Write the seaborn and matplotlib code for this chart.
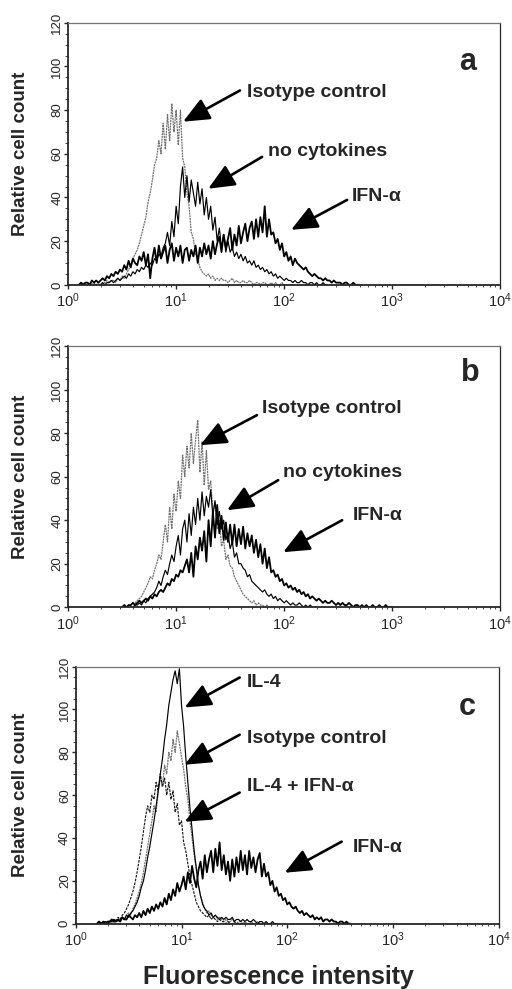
import numpy as np
import matplotlib
matplotlib.use('Agg')
import matplotlib.pyplot as plt
import seaborn as sns
from matplotlib.ticker import MultipleLocator, LogLocator

# ============== DATA ==============
# every histogram is sampled on channels 0.02 decade wide,
# the *_start value is the log10 of the first channel
STEP = 0.02

# ---- panel a ----
a_iso_start = 0.10
a_iso = [0, 0, 1, 0, 0, 1, 0, 1, 0, 1, 0, 1, 1, 2, 1, 2,
         2, 1, 3, 2, 4, 3, 5, 7, 9, 12,
         14, 16, 19, 23, 27, 31, 38, 42, 48, 55,
         58, 66, 60, 74, 62, 78, 66, 83, 70, 80,
         64, 80, 58, 54, 42, 36, 24, 21, 14, 12,
         8, 6, 5, 4, 5, 3, 4, 2, 3, 2,
         3, 2, 2, 1, 2, 3, 1, 2, 1, 1,
         2, 1, 1, 2, 1, 0, 1, 1, 0, 1,
         1, 0, 0, 1, 0, 1, 0, 0, 1, 0, 0, 0, 0, 0, 0]

a_nocyt_start = 0.30
a_nocyt = [0, 1, 0, 1, 1, 2, 1, 2, 3, 2,
           3, 4, 3, 5, 4, 6, 5, 7, 6, 8,
           7, 9, 8, 10, 9, 12, 11, 14, 13, 17,
           19, 24, 18, 29, 22, 36, 28, 45, 54, 40,
           50, 38, 48, 42, 36, 47, 37, 44, 32, 40,
           30, 36, 25, 31, 20, 26, 17, 23, 15, 20,
           15, 17, 13, 15, 12, 14, 11, 13, 10, 11,
           9, 11, 8, 9, 7, 8, 6, 7, 5, 6,
           4, 5, 3, 4, 3, 2, 3, 2, 2, 1,
           2, 1, 1, 2, 1, 1, 0, 1, 1, 0, 1, 0, 0, 1, 0, 0]

a_ifn_start = 0.10
a_ifn = [0, 1, 0, 1, 1, 0, 2, 1, 2, 1,
         2, 3, 2, 4, 3, 5, 4, 6, 5, 7,
         6, 9, 7, 11, 8, 12, 10, 9, 13, 11,
         15, 9, 14, 3, 12, 17, 10, 18, 12, 15,
         18, 10, 16, 19, 11, 17, 13, 18, 10, 16,
         17, 11, 16, 13, 18, 10, 17, 13, 19, 14,
         18, 12, 20, 14, 19, 22, 15, 23, 17, 21,
         26, 16, 23, 18, 27, 19, 24, 28, 20, 26,
         29, 21, 30, 22, 31, 24, 36, 22, 30, 23,
         24, 19, 21, 16, 19, 13, 15, 11, 13, 9,
         12, 10, 9, 8, 7, 8, 6, 5, 4, 5,
         4, 3, 3, 2, 3, 2, 2, 1, 2, 1,
         1, 1, 0, 1, 1, 0, 0, 1, 0, 0, 0]

# ---- panel b ----
b_iso_start = 0.50
b_iso = [0, 1, 0, 1, 1, 2, 2, 3, 4, 5,
         7, 9, 11, 14, 13, 17, 20, 24, 22, 30,
         38, 30, 46, 36, 52, 44, 58, 50, 70, 60,
         74, 64, 80, 66, 77, 86, 62, 76, 56, 72,
         54, 58, 44, 48, 36, 40, 28, 31, 22, 24,
         19, 18, 14, 12, 10, 8, 6, 5, 4, 3,
         2, 3, 1, 2, 1, 1, 0, 1, 0, 0, 0]

b_nocyt_start = 0.60
b_nocyt = [0, 1, 1, 2, 1, 3, 2, 4, 5, 6,
           7, 9, 12, 10, 14, 17, 15, 20, 24, 21,
           28, 33, 24, 36, 40, 30, 43, 33, 46, 38,
           50, 40, 53, 42, 51, 46, 54, 42, 49, 38,
           44, 36, 40, 31, 34, 27, 30, 23, 25, 20,
           20, 18, 17, 14, 15, 12, 11, 10, 9, 8,
           7, 8, 6, 5, 6, 4, 5, 3, 4, 3,
           2, 3, 2, 1, 2, 1, 1, 2, 1, 0,
           1, 0, 1, 0, 0, 0]

b_ifn_start = 0.50
b_ifn = [0, 1, 0, 1, 1, 2, 1, 2, 3, 2,
         3, 4, 3, 5, 4, 6, 5, 7, 8, 7,
         9, 11, 10, 13, 12, 15, 14, 17, 16, 19,
         22, 16, 25, 14, 28, 22, 32, 26, 35, 21,
         40, 28, 44, 32, 47, 34, 42, 31, 39, 30,
         38, 29, 38, 28, 36, 29, 37, 27, 34, 28,
         33, 25, 31, 23, 29, 20, 27, 18, 23, 16,
         17, 14, 15, 12, 13, 10, 11, 9, 10, 8,
         9, 7, 8, 6, 7, 5, 6, 4, 5, 4,
         3, 4, 3, 2, 3, 2, 2, 3, 2, 1,
         2, 1, 2, 1, 1, 2, 1, 0, 1, 1,
         0, 1, 0, 1, 0, 0, 1, 0, 0, 1,
         0, 0, 1, 0, 0, 0]

# ---- panel c ----
c_il4_start = 0.20
c_il4 = [0, 1, 0, 1, 1, 0, 1, 1, 2, 1,
         2, 1, 3, 2, 4, 3, 5, 6, 8, 10,
         13, 17, 20, 25, 31, 36, 42, 48, 55, 62,
         70, 77, 86, 93, 102, 108, 114, 118, 112, 119,
         102, 92, 78, 66, 54, 44, 34, 26, 18, 13,
         9, 7, 6, 4, 5, 3, 4, 3, 2, 3,
         2, 3, 2, 2, 3, 1, 2, 2, 1, 2,
         1, 2, 1, 1, 2, 1, 0, 1, 1, 0,
         1, 0, 0, 1, 0, 0]

c_iso_start = 0.30
c_iso = [0, 1, 0, 1, 2, 1, 2, 3, 2, 4,
         5, 4, 7, 9, 12, 15, 19, 24, 30, 36,
         42, 48, 55, 52, 62, 68, 64, 74, 70, 80,
         76, 86, 80, 90, 84, 78, 72, 64, 58, 48,
         40, 32, 25, 18, 13, 10, 7, 5, 6, 4,
         3, 4, 2, 3, 2, 1, 2, 1, 1, 2,
         1, 0, 1, 1, 0, 1, 0, 0, 1, 0,
         0, 1, 0, 0, 0, 0]

c_both_start = 0.30
c_both = [0, 1, 1, 2, 1, 3, 2, 4, 5, 7,
          9, 12, 15, 19, 24, 30, 36, 43, 50, 55,
          52, 60, 58, 66, 62, 70, 64, 68, 60, 66,
          58, 62, 52, 56, 46, 48, 38, 34, 28, 22,
          18, 14, 10, 8, 6, 5, 4, 3, 4, 2,
          3, 2, 1, 2, 1, 1, 0, 1, 0, 0,
          1, 0, 0, 0, 0, 0]

c_ifn_start = 0.20
c_ifn = [0, 1, 0, 1, 0, 1, 1, 2, 1, 1,
         2, 1, 3, 2, 2, 4, 3, 2, 4, 3,
         5, 3, 6, 4, 7, 5, 8, 6, 9, 7,
         10, 8, 12, 9, 14, 11, 16, 13, 19, 15,
         18, 22, 16, 24, 19, 27, 21, 17, 25, 29,
         21, 32, 24, 30, 34, 24, 35, 27, 38, 25,
         32, 23, 29, 20, 30, 22, 31, 24, 34, 25,
         32, 23, 34, 26, 31, 24, 30, 33, 22, 28,
         22, 24, 18, 20, 15, 17, 13, 14, 11, 12,
         9, 10, 8, 7, 8, 6, 5, 6, 4, 5,
         4, 3, 4, 2, 3, 2, 3, 1, 2, 2,
         1, 2, 1, 1, 0, 1, 1, 0, 1, 0, 0]

y_ticks = [0, 20, 40, 60, 80, 100, 120]
x_ticks = [1, 10, 100, 1000, 10000]


# =========== HELPERS =============
def channels(start, values):
    return 10 ** (start + STEP * np.arange(len(values)))


GREY = dict(color='0.45', linewidth=0.9, linestyle=(0, (1.6, 0.6)))
THIN = dict(color='black', linewidth=0.85)
THICK = dict(color='black', linewidth=1.3)
DASH = dict(color='0.1', linewidth=0.85, linestyle=(0, (2.2, 1.0)))


def draw(ax, start, values, style):
    sns.lineplot(x=channels(start, values), y=values, ax=ax,
                 estimator=None, legend=False, **style)


def style_axes(ax, letter, label_x):
    ax.set_xscale('log')
    ax.set_xlim(1, 10000)
    ax.set_ylim(0, 120)
    ax.set_xticks(x_ticks)
    ax.set_yticks(y_ticks)
    ax.xaxis.set_minor_locator(LogLocator(base=10, subs=np.arange(2, 10), numticks=20))
    ax.yaxis.set_minor_locator(MultipleLocator(5))
    ax.tick_params(axis='y', which='major', labelrotation=90, labelsize=9.5,
                   direction='out', length=3, width=1, pad=0.5)
    ax.tick_params(axis='y', which='minor', direction='out', length=2, width=0.6)
    for lab in ax.get_yticklabels():
        lab.set_verticalalignment('center')
    ax.tick_params(axis='x', which='major', labelsize=10.5, direction='out',
                   length=3, width=1, pad=2)
    ax.tick_params(axis='x', which='minor', direction='out', length=1.5, width=0.6)
    for side in ['left', 'bottom']:
        ax.spines[side].set_linewidth(1.3)
    ax.spines['right'].set_linewidth(0.9)
    ax.spines['top'].set_linewidth(0.9)
    ax.spines['top'].set_color('0.45')
    ax.spines['top'].set_linestyle((0, (4, 1)))
    ax.set_xlabel('')
    ax.set_ylabel('Relative cell count', fontsize=13.5, fontweight='bold')
    ax.yaxis.set_label_coords(label_x, 0.5)
    ax.text(letter[1], letter[2], letter[0], fontsize=22, fontweight='bold',
            ha='center', va='center')


def arrow(ax, text, text_xy, tail, tip):
    ax.annotate('', xy=tip, xytext=tail,
                arrowprops=dict(arrowstyle='-|>,head_length=0.8,head_width=0.35',
                                color='black', lw=1.9, mutation_scale=20,
                                shrinkA=0, shrinkB=0))
    ax.text(text_xy[0], text_xy[1], text, fontsize=14, fontweight='bold',
            ha='left', va='center')


# =============== PLOT ====================
sns.set_style('ticks')
plt.rcParams['font.family'] = ['Liberation Sans', 'DejaVu Sans']
plt.rcParams['mathtext.default'] = 'regular'

fig = plt.figure(figsize=(5.12, 9.89), dpi=100)
ax_a = fig.add_axes([0.133, 0.712, 0.844, 0.265])
ax_b = fig.add_axes([0.133, 0.386, 0.844, 0.264])
ax_c = fig.add_axes([0.148, 0.066, 0.826, 0.260])

# panel a
draw(ax_a, a_iso_start, a_iso, GREY)
draw(ax_a, a_nocyt_start, a_nocyt, THIN)
draw(ax_a, a_ifn_start, a_ifn, THICK)
style_axes(ax_a, ('a', 4945, 102), -0.090)
arrow(ax_a, 'Isotype control', (45, 88), (39, 89), (11.6, 74.7))
arrow(ax_a, 'no cytokines', (71, 61), (62.5, 58.6), (19.8, 44))
arrow(ax_a, 'IFN-α', (426, 40.3), (383, 38.9), (116, 25.2))

# panel b
draw(ax_b, b_iso_start, b_iso, GREY)
draw(ax_b, b_nocyt_start, b_nocyt, THIN)
draw(ax_b, b_ifn_start, b_ifn, THICK)
style_axes(ax_b, ('b', 5275, 107.6), -0.090)
arrow(ax_b, 'Isotype control', (62.5, 91.5), (56, 88.3), (16.7, 74.5))
arrow(ax_b, 'no cytokines', (98, 62.1), (88, 58.4), (29.6, 44.6))
arrow(ax_b, 'IFN-α', (435, 42.3), (344, 40), (98, 25.3))

# panel c
draw(ax_c, c_iso_start, c_iso, GREY)
draw(ax_c, c_both_start, c_both, DASH)
draw(ax_c, c_il4_start, c_il4, THIN)
draw(ax_c, c_ifn_start, c_ifn, THICK)
style_axes(ax_c, ('c', 5090, 101.3), -0.111)
arrow(ax_c, 'IL-4', (41.4, 112.5), (35.5, 114.9), (10.7, 100.9))
arrow(ax_c, 'Isotype control', (41.4, 86.4), (35.5, 88.2), (10.7, 74.2))
arrow(ax_c, 'IL-4 + IFN-α', (41.4, 64), (35.5, 61.2), (10.7, 47.6))
arrow(ax_c, 'IFN-α', (416, 35.5), (327, 38.3), (94.7, 23.8))

fig.text(0.543, 1 - 977 / 989, 'Fluorescence intensity', fontsize=18,
         fontweight='bold', ha='center', va='center')

plt.savefig('out.png', dpi=100)
